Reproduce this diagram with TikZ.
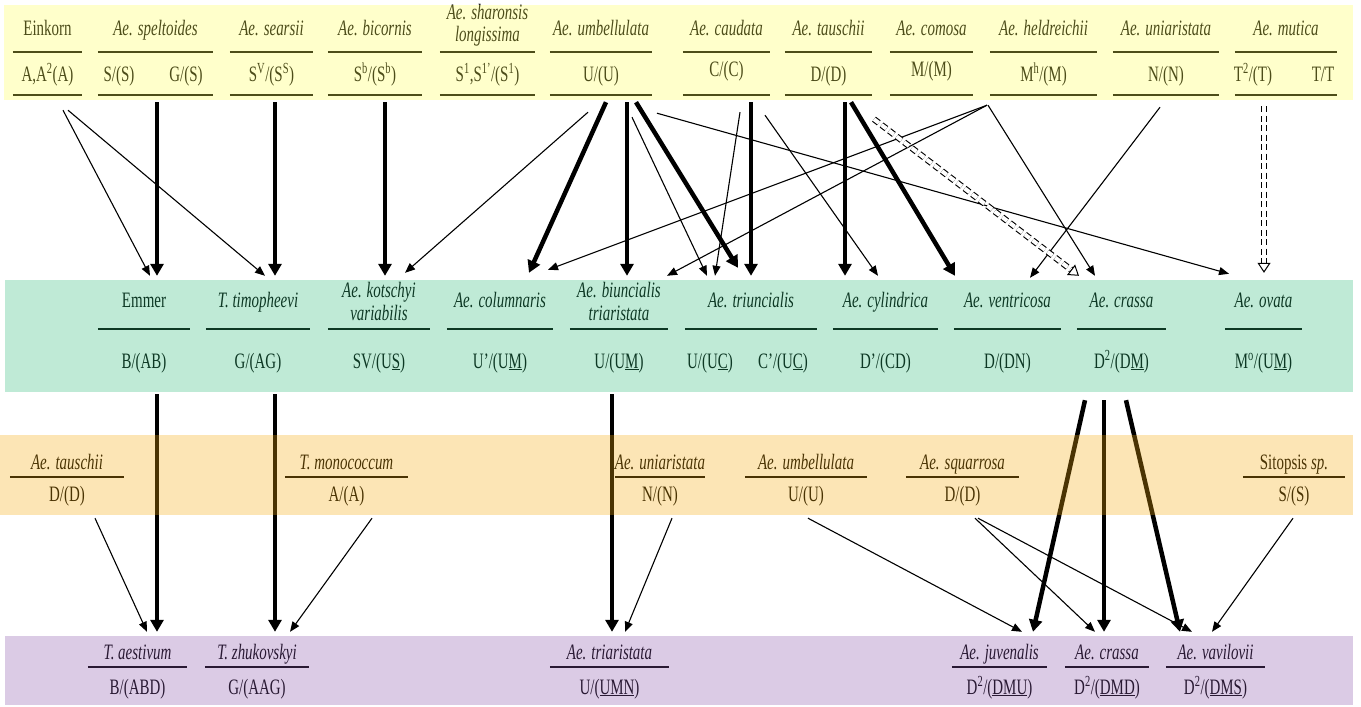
\documentclass[tikz,border=0pt]{standalone}
\usepackage{fontspec}
\setmainfont{Liberation Serif}[FakeStretch=0.68]
\usetikzlibrary{arrows.meta,fit,calc}
\definecolor{bandY}{RGB}{255,255,85}
\definecolor{bandG}{RGB}{45,188,122}
\definecolor{bandO}{RGB}{248,172,12}
\definecolor{bandP}{RGB}{138,85,172}
\tikzset{
  col/.style={inner sep=0pt, draw=none},
  nm/.style={inner sep=0pt, anchor=base, font=\fontsize{22}{24}\selectfont\itshape},
  gn/.style={inner sep=0pt, anchor=base, font=\fontsize{22}{24}\selectfont},
  rl/.style={line width=1.6pt, black},
  thk/.style={line width=4.5pt, -{Triangle[length=12pt,width=13pt]}},
  thn/.style={line width=1.1pt, -{Triangle[length=10pt,width=8pt]}},
  dbl/.style={double, dash pattern=on 6pt off 3.5pt, line width=1.1pt, double distance=4pt},
  opentip/.style={line width=1pt, -{Triangle[open,length=10pt,width=13pt]}},
  band/.style={fill opacity=0.3, draw=none},
}
\newcommand\colT[3]{\node[col, fit={(#2,5)(#3,102)}] (#1) {};
  \draw[rl] (#1.west |- 0,52) -- (#1.east |- 0,52);
  \draw[rl] (#1.west |- 0,95) -- (#1.east |- 0,95);}
\newcommand\colG[3]{\node[col, fit={(#2,276)(#3,394)}] (#1) {};
  \draw[rl] (#1.west |- 0,329) -- (#1.east |- 0,329);}
\newcommand\colO[3]{\node[col, fit={(#2,440)(#3,518)}] (#1) {};
  \draw[rl] (#1.west |- 0,477) -- (#1.east |- 0,477);}
\newcommand\colP[3]{\node[col, fit={(#2,632)(#3,705)}] (#1) {};
  \draw[rl] (#1.west |- 0,667) -- (#1.east |- 0,667);}
\begin{document}
\begin{tikzpicture}[x=1pt,y=-1pt]
\useasboundingbox (0,0) rectangle (1361,707);
\fill[white] (0,0) rectangle (1361,707);

% ---------- top row ----------
\colT{einkorn}{13}{82}
\colT{spelt}{98}{213}
\colT{searsii}{230}{313}
\colT{bicornis}{328}{422}
\colT{sharon}{440}{535}
\colT{umb}{550}{652}
\colT{caudata}{683}{770}
\colT{tauschii}{785}{872}
\colT{comosa}{890}{973}
\colT{heldr}{990}{1097}
\colT{uniar}{1113}{1219}
\colT{mutica}{1235}{1337}

\node[gn] (einkorn-n) at (einkorn.north |- 0,35) {Einkorn};
\node[gn] (einkorn-g) at (einkorn.north |- 0,81) {A,A\textsuperscript{2}(A)};
\node[nm] (spelt-n) at (spelt.north |- 0,35) {Ae. speltoides};
\node[gn] (spelt-g1) at (119,81) {S/(S)};
\node[gn] (spelt-g2) at (186,81) {G/(S)};
\node[nm] (searsii-n) at (searsii.north |- 0,35) {Ae. searsii};
\node[gn] (searsii-g) at (searsii.north |- 0,81) {S\textsuperscript{V}/(S\textsuperscript{S})};
\node[nm] (bicornis-n) at (bicornis.north |- 0,35) {Ae. bicornis};
\node[gn] (bicornis-g) at (bicornis.north |- 0,81) {S\textsuperscript{b}/(S\textsuperscript{b})};
\node[nm] (sharon-n1) at (sharon.north |- 0,19) {Ae. sharonsis};
\node[nm] (sharon-n2) at (sharon.north |- 0,41) {longissima};
\node[gn] (sharon-g) at (sharon.north |- 0,81) {S\textsuperscript{1},S\textsuperscript{1’}/(S\textsuperscript{1})};
\node[nm] (umb-n) at (umb.north |- 0,35) {Ae. umbellulata};
\node[gn] (umb-g) at (umb.north |- 0,81) {U/(U)};
\node[nm] (caudata-n) at (caudata.north |- 0,35) {Ae. caudata};
\node[gn] (caudata-g) at (caudata.north |- 0,76) {C/(C)};
\node[nm] (tauschii-n) at (tauschii.north |- 0,35) {Ae. tauschii};
\node[gn] (tauschii-g) at (tauschii.north |- 0,81) {D/(D)};
\node[nm] (comosa-n) at (comosa.north |- 0,35) {Ae. comosa};
\node[gn] (comosa-g) at (comosa.north |- 0,76) {M/(M)};
\node[nm] (heldr-n) at (heldr.north |- 0,35) {Ae. heldreichii};
\node[gn] (heldr-g) at (heldr.north |- 0,81) {M\textsuperscript{h}/(M)};
\node[nm] (uniar-n) at (uniar.north |- 0,35) {Ae. uniaristata};
\node[gn] (uniar-g) at (uniar.north |- 0,81) {N/(N)};
\node[nm] (mutica-n) at (mutica.north |- 0,35) {Ae. mutica};
\node[gn] (mutica-g1) at (1253,81) {T\textsuperscript{2}/(T)};
\node[gn] (mutica-g2) at (1323,81) {T/T};

% ---------- green row ----------
\colG{emmer}{98}{190}
\colG{timoph}{206}{310}
\colG{kotschyi}{328}{430}
\colG{columnaris}{447}{553}
\colG{biunc}{570}{668}
\colG{triunc}{685}{817}
\colG{cylindrica}{833}{938}
\colG{ventricosa}{954}{1061}
\colG{crassa}{1077}{1166}
\colG{ovata}{1225}{1302}

\node[gn] (emmer-n) at (emmer.north |- 0,307) {Emmer};
\node[gn] (emmer-g) at (emmer.north |- 0,368) {B/(AB)};
\node[nm] (timoph-n) at (timoph.north |- 0,307) {T. timopheevi};
\node[gn] (timoph-g) at (timoph.north |- 0,368) {G/(AG)};
\node[nm] (kotschyi-n1) at (kotschyi.north |- 0,297) {Ae. kotschyi};
\node[nm] (kotschyi-n2) at (kotschyi.north |- 0,320) {variabilis};
\node[gn] (kotschyi-g) at (kotschyi.north |- 0,368) {SV/(U\underline{S})};
\node[nm] (columnaris-n) at (columnaris.north |- 0,307) {Ae. columnaris};
\node[gn] (columnaris-g) at (columnaris.north |- 0,368) {U’/(U\underline{M})};
\node[nm] (biunc-n1) at (biunc.north |- 0,297) {Ae. biuncialis};
\node[nm] (biunc-n2) at (biunc.north |- 0,320) {triaristata};
\node[gn] (biunc-g) at (biunc.north |- 0,368) {U/(U\underline{M})};
\node[nm] (triunc-n) at (triunc.north |- 0,307) {Ae. triuncialis};
\node[gn] (triunc-g1) at (710,368) {U/(U\underline{C})};
\node[gn] (triunc-g2) at (783,368) {C’/(U\underline{C})};
\node[nm] (cylindrica-n) at (cylindrica.north |- 0,307) {Ae. cylindrica};
\node[gn] (cylindrica-g) at (cylindrica.north |- 0,368) {D’/(CD)};
\node[nm] (ventricosa-n) at (ventricosa.north |- 0,307) {Ae. ventricosa};
\node[gn] (ventricosa-g) at (ventricosa.north |- 0,368) {D/(DN)};
\node[nm] (crassa-n) at (crassa.north |- 0,307) {Ae. crassa};
\node[gn] (crassa-g) at (crassa.north |- 0,368) {D\textsuperscript{2}/(D\underline{M})};
\node[nm] (ovata-n) at (ovata.north |- 0,307) {Ae. ovata};
\node[gn] (ovata-g) at (ovata.north |- 0,368) {M\textsuperscript{o}/(U\underline{M})};

% ---------- orange row ----------
\colO{tauscho}{10}{124}
\colO{monoc}{285}{408}
\colO{uniaro}{615}{705}
\colO{umbo}{745}{867}
\colO{squarr}{906}{1019}
\colO{sitop}{1243}{1345}

\node[nm] (tauscho-n) at (tauscho.north |- 0,469) {Ae. tauschii};
\node[gn] (tauscho-g) at (tauscho.north |- 0,501) {D/(D)};
\node[nm] (monoc-n) at (monoc.north |- 0,469) {T. monococcum};
\node[gn] (monoc-g) at (monoc.north |- 0,501) {A/(A)};
\node[nm] (uniaro-n) at (uniaro.north |- 0,469) {Ae. uniaristata};
\node[gn] (uniaro-g) at (uniaro.north |- 0,501) {N/(N)};
\node[nm] (umbo-n) at (umbo.north |- 0,469) {Ae. umbellulata};
\node[gn] (umbo-g) at (umbo.north |- 0,501) {U/(U)};
\node[nm] (squarr-n) at (squarr.north |- 0,469) {Ae. squarrosa};
\node[gn] (squarr-g) at (squarr.north |- 0,501) {D/(D)};
\node[gn] (sitop-n) at (sitop.north |- 0,469) {Sitopsis \textit{sp.}};
\node[gn] (sitop-g) at (sitop.north |- 0,501) {S/(S)};

% ---------- purple row ----------
\colP{aestivum}{88}{187}
\colP{zhuk}{205}{309}
\colP{triar}{550}{669}
\colP{juven}{952}{1047}
\colP{crassab}{1065}{1149}
\colP{vavil}{1166}{1265}

\node[nm] (aestivum-n) at (aestivum.north |- 0,659) {T. aestivum};
\node[gn] (aestivum-g) at (aestivum.north |- 0,694) {B/(ABD)};
\node[nm] (zhuk-n) at (zhuk.north |- 0,659) {T. zhukovskyi};
\node[gn] (zhuk-g) at (zhuk.north |- 0,694) {G/(AAG)};
\node[nm] (triar-n) at (triar.north |- 0,659) {Ae. triaristata};
\node[gn] (triar-g) at (triar.north |- 0,694) {U/(\underline{UMN})};
\node[nm] (juven-n) at (juven.north |- 0,659) {Ae. juvenalis};
\node[gn] (juven-g) at (juven.north |- 0,694) {D\textsuperscript{2}/(\underline{DMU})};
\node[nm] (crassab-n) at (crassab.north |- 0,659) {Ae. crassa};
\node[gn] (crassab-g) at (crassab.north |- 0,694) {D\textsuperscript{2}/(\underline{DMD})};
\node[nm] (vavil-n) at (vavil.north |- 0,659) {Ae. vavilovii};
\node[gn] (vavil-g) at (vavil.north |- 0,694) {D\textsuperscript{2}/(\underline{DMS})};

% ---------- top -> green connectors ----------
\draw[thk] (157,0 |- spelt.south) -- (157,0 |- emmer.north);
\draw[thk] (275,0 |- searsii.south) -- (275,0 |- timoph.north);
\draw[thk] (385,0 |- bicornis.south) -- (385,0 |- kotschyi.north);
\draw[thk] (606,0 |- umb.south) -- ($(529,0 |- columnaris.north)+(0,-3)$);
\draw[thk] (627,0 |- umb.south) -- (627,0 |- biunc.north);
\draw[thk] (636,0 |- umb.south) -- ($(738,0 |- triunc.north)+(0,-8)$);
\draw[thk] (751,0 |- caudata.south) -- (751,0 |- triunc.north);
\draw[thk] (845,0 |- tauschii.south) -- (845,0 |- cylindrica.north);
\draw[thk] (851,0 |- tauschii.south) -- (955,0 |- ventricosa.north);

\draw[thn] ($(63,0 |- einkorn.south)+(0,8)$) -- (150,0 |- emmer.north);
\draw[thn] ($(68,0 |- einkorn.south)+(0,8)$) -- (265,0 |- timoph.north);
\draw[thn] ($(588,0 |- umb.south)+(0,10)$) -- ($(405,0 |- kotschyi.north)+(0,-3)$);
\draw[thn] ($(632,0 |- umb.south)+(0,15)$) -- (707,0 |- triunc.north);
\draw[thn] ($(657,0 |- umb.south)+(0,11)$) -- ($(1229,0 |- ovata.north)+(0,-2)$);
\draw[thn] ($(740,0 |- caudata.south)+(0,10)$) -- (715,0 |- triunc.north);
\draw[thn] ($(765,0 |- caudata.south)+(0,13)$) -- (878,0 |- cylindrica.north);
\draw[thn] ($(987,0 |- heldr.south)+(0,3)$) -- ($(548,0 |- columnaris.north)+(0,-6)$);
\draw[thn] ($(987,0 |- heldr.south)+(0,3)$) -- (667,0 |- biunc.north);
\draw[thn] ($(988,0 |- heldr.south)+(0,3)$) -- (1095,0 |- crassa.north);
\draw[thn] ($(1160,0 |- uniar.south)+(0,5)$) -- ($(1030,0 |- ventricosa.north)+(0,2)$);

\coordinate (d1s) at ($(874,0 |- comosa.south)+(0,17)$);
\coordinate (d1e) at (1079,0 |- crassa.north);
\draw[dbl] (d1s) -- ($(d1e)!10pt!(d1s)$);
\draw[opentip] ($(d1e)!10pt!(d1s)$) -- (d1e);
\coordinate (d2s) at ($(1264,0 |- mutica.south)+(0,4)$);
\coordinate (d2e) at ($(1264,0 |- ovata.north)+(0,-3)$);
\draw[dbl] (d2s) -- ($(d2e)!10pt!(d2s)$);
\draw[opentip] ($(d2e)!10pt!(d2s)$) -- (d2e);

% ---------- green / orange -> purple connectors ----------
\draw[thk] (157,0 |- emmer.south) -- (157,0 |- aestivum.north);
\draw[thk] (275,0 |- timoph.south) -- (275,0 |- zhuk.north);
\draw[thk] (612,0 |- biunc.south) -- (612,0 |- triar.north);
\draw[thk] ($(1085,0 |- crassa.south)+(0,6)$) -- (1033,0 |- juven.north);
\draw[thk] ($(1104,0 |- crassa.south)+(0,6)$) -- (1104,0 |- crassab.north);
\draw[thk] ($(1126,0 |- crassa.south)+(0,6)$) -- (1180,0 |- vavil.north);

\draw[thn] (95,0 |- tauscho.south) -- (147,0 |- aestivum.north);
\draw[thn] (372,0 |- monoc.south) -- (290,0 |- zhuk.north);
\draw[thn] (672,0 |- uniaro.south) -- (625,0 |- triar.north);
\draw[thn] (808,0 |- umbo.south) -- (1022,0 |- juven.north);
\draw[thn] (975,0 |- squarr.south) -- (1095,0 |- crassab.north);
\draw[thn] (978,0 |- squarr.south) -- (1192,0 |- vavil.north);
\draw[thn] (1293,0 |- sitop.south) -- (1212,0 |- vavil.north);

% ---------- translucent bands ----------
\fill[bandY, band] (4,5) rectangle (1353,100);
\fill[bandG, band] (5,280) rectangle (1353,392);
\fill[bandO, band] (0,435) rectangle (1353,515);
\fill[bandP, band] (5,636) rectangle (1353,705);
\end{tikzpicture}
\end{document}
